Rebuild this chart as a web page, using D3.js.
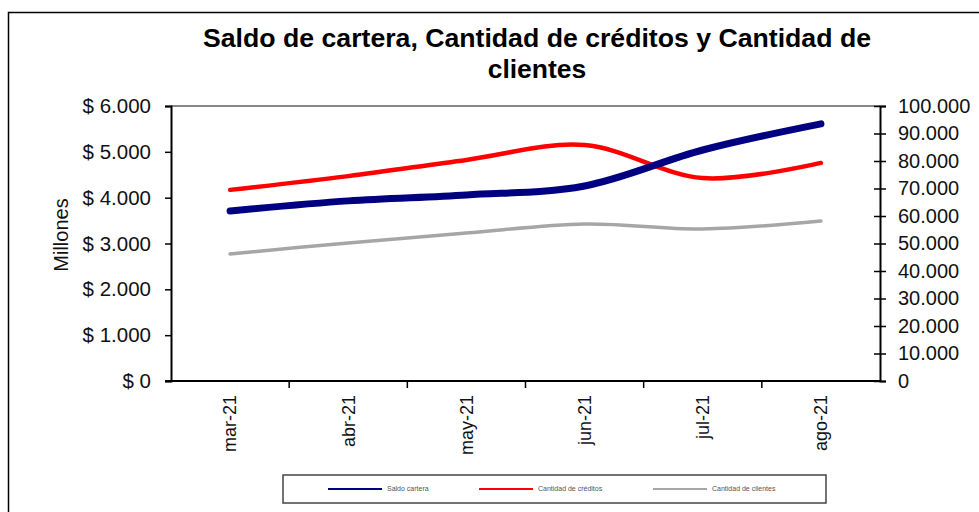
<!DOCTYPE html>
<html>
<head>
<meta charset="utf-8">
<script src="https://cdn.jsdelivr.net/npm/d3@7"></script>
<style>
  html, body { margin: 0; padding: 0; background: #fff; }
  svg { display: block; font-family: Arial, "Liberation Sans", sans-serif; }
</style>
</head>
<body>
<svg id="chart" width="979" height="512"></svg>
<script>
// ---- data ----
const categories = ["mar-21", "abr-21", "may-21", "jun-21", "jul-21", "ago-21"];
const saldoCartera = [3710, 3930, 4060, 4255, 5040, 5610];          // millones (left axis)
const cantidadCreditos = [69500, 74500, 80400, 85800, 73800, 79300]; // right axis
const cantidadClientes = [46200, 50200, 53800, 57100, 55300, 58200]; // right axis
const leftTicks = [0, 1000, 2000, 3000, 4000, 5000, 6000];
const rightTicks = [0, 10000, 20000, 30000, 40000, 50000, 60000, 70000, 80000, 90000, 100000];
const seriesNames = ["Saldo cartera", "Cantidad de créditos", "Cantidad de clientes"];
const titleLines = ["Saldo de cartera, Cantidad de créditos y Cantidad de", "clientes"];

const svg = d3.select("#chart");
const L = 171, R = 880, T = 106, B = 381;

// outer border
svg.append("rect").attr("x", 8.5).attr("y", 12.5).attr("width", 990).attr("height", 520)
  .attr("fill", "none").attr("stroke", "#000").attr("stroke-width", 1.5);

// title
svg.append("text").attr("x", 537).attr("y", 47).attr("text-anchor", "middle")
  .attr("font-size", 26.5).attr("font-weight", "bold").attr("fill", "#000")
  .attr("textLength", 668).attr("lengthAdjust", "spacingAndGlyphs").text(titleLines[0]);
svg.append("text").attr("x", 537).attr("y", 78).attr("text-anchor", "middle")
  .attr("font-size", 26.5).attr("font-weight", "bold").attr("fill", "#000").text(titleLines[1]);

const x = d3.scaleBand().domain(categories).range([L, R]);
const yL = d3.scaleLinear().domain([0, 6000]).range([B, T]);
const yR = d3.scaleLinear().domain([0, 100000]).range([B, T]);
const fmt = d3.formatLocale({decimal: ",", thousands: ".", grouping: [3], currency: ["$ ", ""]}).format(",.0f");

// plot top border
svg.append("line").attr("x1", L).attr("x2", R).attr("y1", T).attr("y2", T)
  .attr("stroke", "#888").attr("stroke-width", 2);

// left axis
const gL = svg.append("g").attr("transform", `translate(${L},0)`)
  .call(d3.axisLeft(yL).tickValues(leftTicks).tickSize(6).tickPadding(14).tickFormat(d => "$ " + fmt(d)));
gL.select(".domain").attr("stroke", "#000").attr("stroke-width", 2);
gL.selectAll(".tick line").attr("stroke", "#000").attr("stroke-width", 1.5);
gL.selectAll(".tick text").attr("font-size", 20.5).attr("fill", "#111").attr("font-family", "Arial, 'Liberation Sans', sans-serif");

// right axis
const gR = svg.append("g").attr("transform", `translate(${R},0)`)
  .call(d3.axisRight(yR).tickValues(rightTicks).tickSizeInner(6).tickSizeOuter(6).tickPadding(12).tickFormat(d => fmt(d)));
gR.select(".domain").attr("stroke", "#000").attr("stroke-width", 2);
gR.selectAll(".tick line").attr("stroke", "#000").attr("stroke-width", 1.5).attr("x1", -6);
gR.selectAll(".tick text").attr("font-size", 20).attr("fill", "#111").attr("font-family", "Arial, 'Liberation Sans', sans-serif");

// bottom axis
const gB = svg.append("g").attr("transform", `translate(0,${B})`)
  .call(d3.axisBottom(x).tickSize(0).tickPadding(0));
gB.select(".domain").remove();
svg.append("line").attr("x1", L - 6).attr("x2", R).attr("y1", B).attr("y2", B)
  .attr("stroke", "#000").attr("stroke-width", 2);
// category boundary ticks
svg.append("g").selectAll("line").data(categories.slice(1)).join("line")
  .attr("x1", d => x(d)).attr("x2", d => x(d)).attr("y1", B).attr("y2", B + 7)
  .attr("stroke", "#000").attr("stroke-width", 1.5);
gB.selectAll(".tick text")
  .attr("font-size", 18).attr("fill", "#111").attr("font-family", "Arial, 'Liberation Sans', sans-serif")
  .attr("text-anchor", "end").attr("transform", "rotate(-90)")
  .attr("x", -14).attr("y", 0).attr("dy", "0.35em");

// y-axis title
svg.append("text").attr("transform", "translate(68,235) rotate(-90)").attr("text-anchor", "middle")
  .attr("font-size", 20).attr("fill", "#111").text("Millones");

// lines
const cx = d => x(d) + x.bandwidth() / 2;
const curve = d3.curveCatmullRom.alpha(0);
const lineL = d3.line().x((d, i) => cx(categories[i])).y(d => yL(d)).curve(curve);
const lineR = d3.line().x((d, i) => cx(categories[i])).y(d => yR(d)).curve(curve);

svg.append("path").attr("d", lineR(cantidadClientes)).attr("fill", "none")
  .attr("stroke", "#a6a6a6").attr("stroke-width", 3.5).attr("stroke-linecap", "round");
svg.append("path").attr("d", lineR(cantidadCreditos)).attr("fill", "none")
  .attr("stroke", "#ff0000").attr("stroke-width", 4.5).attr("stroke-linecap", "round");
svg.append("path").attr("d", lineL(saldoCartera)).attr("fill", "none")
  .attr("stroke", "#000080").attr("stroke-width", 7).attr("stroke-linecap", "round");

// legend
svg.append("rect").attr("x", 283).attr("y", 475).attr("width", 543).attr("height", 28)
  .attr("fill", "#fff").attr("stroke", "#444").attr("stroke-width", 1.5);
const legColors = ["#000080", "#ff0000", "#a6a6a6"];
const legX = [328, 479, 653];
const leg = svg.append("g").selectAll("g").data(seriesNames).join("g")
  .attr("transform", (d, i) => `translate(${legX[i]},489)`);
leg.append("line").attr("x1", 0).attr("x2", 54).attr("stroke", (d, i) => legColors[i]).attr("stroke-width", 2.2);
leg.append("text").attr("x", 59).attr("dy", "0.35em").attr("font-size", 7).attr("fill", "#555").text(d => d);
</script>
</body>
</html>
